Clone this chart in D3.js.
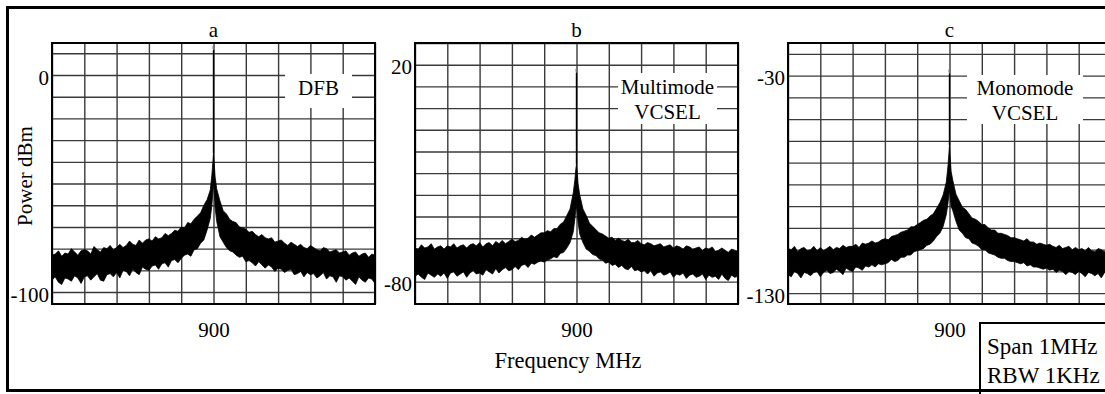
<!DOCTYPE html>
<html>
<head>
<meta charset="utf-8">
<script src="https://cdn.jsdelivr.net/npm/d3@7"></script>
<style>
  body { margin: 0; background: #fff; }
  svg { display: block; }
  text { font-family: "Liberation Serif", "Times New Roman", serif; fill: #000; }
  .grid line { stroke: #3a3a3a; stroke-width: 1.4; }
  .grid path { display: none; }
  .ticks path, .ticks line { display: none; }
</style>
</head>
<body>
<div id="chart"></div>
<script>
///////////////////////
// Step 1: The data  //
///////////////////////

// one panel per laser
var panelIds = ["a", "b", "c"];
var laserLabels = [["DFB"], ["Multimode", "VCSEL"], ["Monomode", "VCSEL"]];
var yDomains = [[-105.5, 14.75], [-90.3, 30], [-135, -15]];
var yTickLabels = [[0, -100], [20, -80], [-30, -130]];
var peakDbm = [11.5, 16.3, -29];

var carrierMHz = 900;
var spanMHz = 1;
var legendLines = ["Span 1MHz", "RBW 1KHz"];

// frequency offsets from the carrier (kHz)
var offsetsKHz = [-500,-490,-480,-470,-460,-450,-440,-430,-420,-410,
  -400,-390,-380,-370,-360,-350,-340,-330,-320,-310,
  -300,-290,-280,-270,-260,-250,-240,-230,-220,-210,
  -200,-190,-180,-170,-160,-150,-140,-130,-120,-110,
  -100,-90,-80,-70,-60,-50,-40,-30,-20,-10,
  -5,-2,0,2,5,
  10,20,30,40,50,60,70,80,90,100,
  110,120,130,140,150,160,170,180,190,200,
  210,220,230,240,250,260,270,280,290,300,
  310,320,330,340,350,360,370,380,390,400,
  410,420,430,440,450,460,470,480,490,500];

// top and bottom of the noisy trace, dBm
var upperA = [-83,-82.5,-81,-83.5,-82,-82.5,-80,-81.5,-83,-81,
  -80.5,-81,-82.5,-79,-80.5,-81.5,-79.5,-80,-78.5,-80.5,
  -79.5,-78,-79.5,-78.5,-76.5,-78,-78.5,-76,-77.5,-76,
  -75.5,-76.5,-74.5,-75.5,-75,-73,-74,-73,-71.5,-72,
  -70,-70.5,-68,-68.5,-66.5,-65,-63.5,-60,-57.5,-53,
  -46,-40,-36,-40,-47,
  -52.5,-58,-62.5,-64,-66.5,-67.5,-68,-70,-70.5,-71,
  -72.5,-72,-73.5,-74.5,-73.5,-75,-75.5,-75,-77,-76.5,
  -76,-77.5,-78.5,-77,-78,-79,-78,-79.5,-80,-78.5,
  -79.5,-80.5,-81,-79.5,-80,-81.5,-81,-80.5,-82,-81.5,
  -81,-83,-82,-81.5,-83.5,-82.5,-82,-84,-82.5,-83];
var lowerA = [-94.5,-93,-95.5,-96.5,-93.5,-94,-95,-92.5,-93.5,-96,
  -93,-92.5,-94.5,-93,-91.5,-94.5,-95,-92,-91.5,-93,
  -91,-93.5,-90,-90.5,-92.5,-89.5,-91,-92,-88.5,-89.5,
  -90,-88,-87.5,-89.5,-87,-86.5,-88.5,-85.5,-85,-86.5,
  -84.5,-83,-82.5,-83.5,-80.5,-80,-77.5,-76,-71.5,-66,
  -60,-54,-50,-53,-61,
  -67.5,-74.5,-77,-79.5,-81,-81.5,-83,-84,-83.5,-86,
  -85.5,-86.5,-88,-86,-87.5,-89,-87.5,-88.5,-90.5,-89,
  -89.5,-91,-90,-89.5,-92,-91.5,-90.5,-93,-91,-92,
  -91.5,-93.5,-92.5,-91,-94,-92.5,-93,-95.5,-92.5,-93,
  -94.5,-93.5,-95,-96.5,-93,-94.5,-95.5,-93.5,-94,-96];

var upperB = [-64.5,-65,-63,-64.5,-64,-62.5,-65,-64,-63.5,-65,
  -63.5,-64,-62.5,-64.5,-63.5,-63,-64.5,-63,-62.5,-63.5,
  -62,-64,-62.5,-62,-63.5,-61.5,-62.5,-61,-62.5,-61.5,
  -60.5,-61.5,-61,-59.5,-60.5,-60,-58.5,-59.5,-58.5,-57.5,
  -57.5,-56.5,-57,-55.5,-55.5,-53.5,-52.5,-49.5,-46.5,-39,
  -33,-28,-26,-29,-35,
  -40,-46.5,-49.5,-53,-54.5,-56,-57.5,-58,-59,-60,
  -59.5,-61,-60,-61,-61.5,-60.5,-62,-62,-61,-62.5,
  -63,-62,-62.5,-63.5,-63,-62.5,-64,-63.5,-63,-64.5,
  -63.5,-64,-65,-63.5,-64,-65,-64.5,-64,-65.5,-64.5,
  -65,-64,-66,-65.5,-64.5,-65.5,-66.5,-65,-65.5,-66];
var lowerB = [-77.5,-76.5,-78,-79,-76,-77,-78,-76.5,-77.5,-76,
  -78.5,-76,-75.5,-77.5,-76.5,-75.5,-78,-76,-75,-76.5,
  -76,-77,-74.5,-75.5,-76.5,-74,-76,-74.5,-73.5,-75,
  -74.5,-73,-74.5,-72.5,-72,-73.5,-71.5,-72,-71,-70.5,
  -71,-70,-69.5,-68.5,-69,-67,-66.5,-64.5,-62,-57,
  -51,-47,-45,-48,-53,
  -58,-62,-65,-66,-67.5,-68,-69.5,-70,-71.5,-71,
  -72.5,-72,-73.5,-72.5,-74,-74.5,-73,-75,-74.5,-75.5,
  -75,-76.5,-75,-77.5,-76,-75.5,-77,-76.5,-75.5,-78,
  -76.5,-77,-76,-78.5,-77,-76.5,-78,-77.5,-76.5,-79,
  -77,-78,-77.5,-79,-76.5,-78.5,-79.5,-77,-78,-77.5];

var upperC = [-109.5,-110,-108.5,-111,-109.5,-109,-110.5,-110,-108.5,-110.5,
  -109,-110.5,-109.5,-108.5,-110,-109,-109.5,-108,-109,-108.5,
  -108.5,-107.5,-109,-107,-107.5,-107,-106,-107,-106.5,-105.5,
  -105,-105.5,-104,-103.5,-103,-102,-101.5,-101,-99.5,-99.5,
  -98.5,-97.5,-96.5,-96,-94.5,-93.5,-91,-88.5,-85,-79,
  -72,-66,-62,-67,-74,
  -78,-84.5,-87.5,-90.5,-91.5,-93.5,-95.5,-96,-97,-98.5,
  -98.5,-100,-101,-101,-102.5,-102.5,-103,-103.5,-104.5,-104.5,
  -105,-105.5,-106,-105,-106.5,-106.5,-107.5,-107,-107.5,-108,
  -107.5,-108.5,-109,-108,-109.5,-109,-108.5,-110,-109,-110,
  -109.5,-110.5,-109,-110.5,-111,-109.5,-110,-111,-109.5,-110.5];
var lowerC = [-121.5,-122.5,-120,-121,-123,-120.5,-121,-122,-120.5,-120,
  -122.5,-120.5,-119.5,-121,-120.5,-119,-120,-121.5,-118.5,-119.5,
  -120,-118,-118.5,-119.5,-117.5,-118,-117,-118,-116.5,-117,
  -116.5,-116,-114.5,-115.5,-115,-113.5,-113.5,-112.5,-112.5,-111,
  -110.5,-110,-109.5,-108,-107.5,-106,-104,-102.5,-99.5,-94,
  -89,-85,-82,-86,-90,
  -92,-97,-101,-102.5,-104.5,-105,-107,-107.5,-108.5,-110,
  -110,-111.5,-112,-112.5,-113.5,-114,-114,-115,-115.5,-115.5,
  -116,-116.5,-116,-117.5,-117,-118,-118,-118.5,-119,-118.5,
  -119.5,-119,-120.5,-119.5,-120,-121.5,-120,-120.5,-121.5,-120,
  -121,-122.5,-120.5,-121,-122,-121,-123,-120.5,-121.5,-122];

var upperTraces = [upperA, upperB, upperC];
var lowerTraces = [lowerA, lowerB, lowerC];

//////////////
// Layout   //
//////////////
var width = 1105, height = 394;
var plotTop = 43, plotBottom = 304;
var panelLeft = [52, 415, 788];
var panelWidth = 323;
// white label boxes, relative to the panel's left edge
var labelBoxes = [
  {x: 233, y: 74, w: 67, h: 34, base: [95]},
  {x: 203, y: 73, w: 99, h: 51, base: [94, 119]},
  {x: 179, y: 75, w: 116, h: 49, base: [95, 120]}
];

function freq(i) {
  // offset in kHz -> MHz
  return carrierMHz + offsetsKHz[i] / 1000;
}

var svg = d3.select("#chart").append("svg")
    .attr("width", width)
    .attr("height", height);

//////////////////////////////
// Step 2: Draw each panel  //
//////////////////////////////
panelIds.forEach(function(id, p) {
  var x = d3.scaleLinear()
      .domain([carrierMHz - spanMHz / 2, carrierMHz + spanMHz / 2])
      .range([panelLeft[p], panelLeft[p] + panelWidth]);
  var y = d3.scaleLinear()
      .domain(yDomains[p])
      .range([plotBottom, plotTop]);
  var h = plotBottom - plotTop;

  var g = svg.append("g").attr("class", "panel panel-" + id);

  // grid
  g.append("g")
      .attr("class", "grid")
      .attr("transform", "translate(0," + plotBottom + ")")
      .call(d3.axisBottom(x).ticks(10).tickSize(-h).tickFormat(""));
  g.append("g")
      .attr("class", "grid")
      .attr("transform", "translate(" + panelLeft[p] + ",0)")
      .call(d3.axisLeft(y).tickValues(y.ticks(12)).tickSize(-panelWidth).tickFormat(""));

  // label box covering the grid
  var box = labelBoxes[p];
  g.append("rect")
      .attr("x", panelLeft[p] + box.x)
      .attr("y", box.y)
      .attr("width", box.w)
      .attr("height", box.h)
      .attr("fill", "#fff");
  laserLabels[p].forEach(function(line, k) {
    g.append("text")
        .attr("x", panelLeft[p] + box.x + box.w / 2)
        .attr("y", box.base[k])
        .attr("text-anchor", "middle")
        .style("font-size", "21px")
        .text(line);
  });

  // noisy spectrum trace
  var area = d3.area()
      .x(function(d, i) { return x(freq(i)); })
      .y0(function(d, i) { return y(lowerTraces[p][i]); })
      .y1(function(d, i) { return y(upperTraces[p][i]); });
  g.append("path")
      .datum(offsetsKHz)
      .attr("d", area)
      .attr("fill", "#000")
      .attr("stroke", "#000")
      .attr("stroke-width", 0.8);

  // carrier peak
  var ci = offsetsKHz.indexOf(0);
  g.append("line")
      .attr("x1", x(carrierMHz)).attr("x2", x(carrierMHz))
      .attr("y1", y(upperTraces[p][ci])).attr("y2", y(peakDbm[p]))
      .attr("stroke", "#000")
      .attr("stroke-width", 1.4);
  g.append("line")
      .attr("x1", x(carrierMHz)).attr("x2", x(carrierMHz))
      .attr("y1", y(peakDbm[p]) - 4).attr("y2", y(peakDbm[p]) - 1)
      .attr("stroke", "#777")
      .attr("stroke-width", 2);

  // plot frame
  g.append("rect")
      .attr("x", panelLeft[p])
      .attr("y", plotTop)
      .attr("width", panelWidth)
      .attr("height", h)
      .attr("fill", "none")
      .attr("stroke", "#000")
      .attr("stroke-width", 2);

  // y labels (only two per panel)
  var yAxis = g.append("g")
      .attr("class", "ticks")
      .attr("transform", "translate(" + panelLeft[p] + ",0)")
      .call(d3.axisLeft(y).tickValues(yTickLabels[p]).tickSize(0).tickPadding(3)
        .tickFormat(function(d) { return String(d); }));
  yAxis.selectAll("text").style("font-size", "21px").attr("dy", "0.43em");

  // x label: carrier frequency
  var xAxis = g.append("g")
      .attr("class", "ticks")
      .attr("transform", "translate(0," + plotBottom + ")")
      .call(d3.axisBottom(x).tickValues([carrierMHz]).tickSize(0)
        .tickFormat(function(d) { return String(d); }));
  xAxis.selectAll("text").style("font-size", "21px").attr("y", 33).attr("dy", 0);

  // panel letter
  g.append("text")
      .attr("x", x(carrierMHz))
      .attr("y", 37)
      .attr("text-anchor", "middle")
      .style("font-size", "21px")
      .text(id);
});

/////////////////////////////////
// Step 3: Axis titles, legend //
/////////////////////////////////
svg.append("text")
    .attr("transform", "translate(32,176) rotate(-90)")
    .attr("text-anchor", "middle")
    .style("font-size", "21px")
    .text("Power dBm");

svg.append("text")
    .attr("x", 568)
    .attr("y", 368)
    .attr("text-anchor", "middle")
    .style("font-size", "22.5px")
    .text("Frequency MHz");

svg.append("rect")
    .attr("x", 980)
    .attr("y", 323)
    .attr("width", 160)
    .attr("height", 90)
    .attr("fill", "#fff")
    .attr("stroke", "#000")
    .attr("stroke-width", 2);
legendLines.forEach(function(line, k) {
  svg.append("text")
      .attr("x", 987)
      .attr("y", 354 + k * 29)
      .style("font-size", "23px")
      .text(line);
});

// outer frame
svg.append("rect")
    .attr("x", 7.5)
    .attr("y", 7.5)
    .attr("width", 1110)
    .attr("height", 383)
    .attr("fill", "none")
    .attr("stroke", "#000")
    .attr("stroke-width", 3);
</script>
</body>
</html>
